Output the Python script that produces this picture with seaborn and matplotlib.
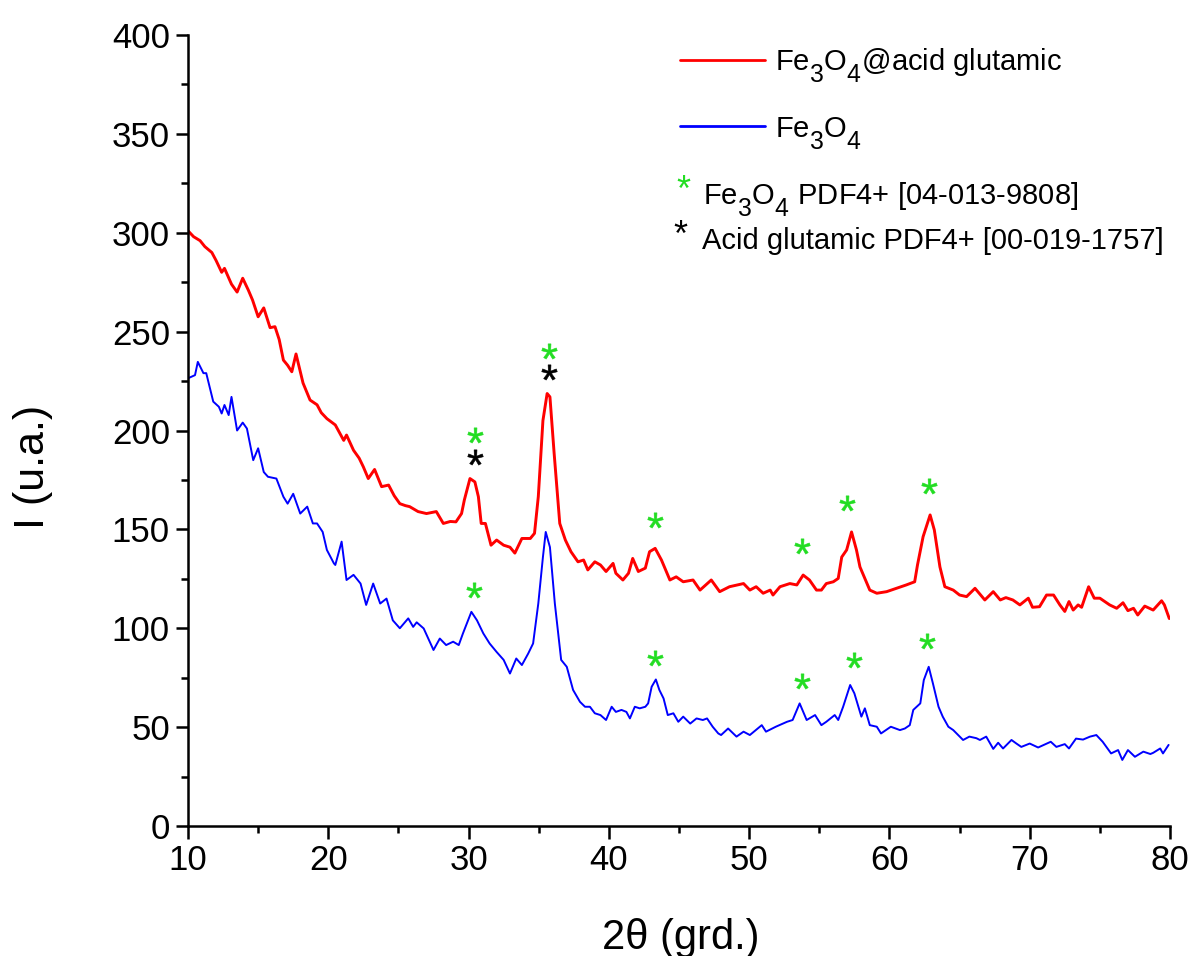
import matplotlib
matplotlib.use("Agg")
import matplotlib.pyplot as plt
import matplotlib._mathtext as _mt
import seaborn as sns
import pandas as pd

# ---------------- data ----------------
red_x = [10.0, 10.4, 10.86, 11.2, 11.7, 12.0, 12.4, 12.6, 13.1, 13.5, 13.9, 14.3, 14.6, 15.0, 15.4,
         15.85, 16.2, 16.5, 16.8, 17.1, 17.4, 17.7, 18.2, 18.7, 19.2, 19.5, 19.9, 20.5, 21.1, 21.3,
         21.8, 22.2, 22.5, 22.85, 23.3, 23.8, 24.3, 24.7, 25.1, 25.5, 25.8, 26.4, 27.0, 27.7, 28.2,
         28.7, 29.1, 29.5, 29.7, 30.1, 30.45, 30.7, 30.9, 31.2, 31.6, 32.0, 32.5, 32.95, 33.3, 33.8,
         34.4, 34.7, 34.97, 35.3, 35.6, 35.8, 36.1, 36.5, 36.9, 37.3, 37.8, 38.2, 38.5, 39.0, 39.4,
         39.8, 40.3, 40.5, 41.0, 41.4, 41.7, 42.1, 42.6, 42.9, 43.3, 43.75, 44.35, 44.8, 45.3, 46.0,
         46.5, 47.3, 47.9, 48.6, 49.6, 50.05, 50.5, 51.0, 51.5, 51.7, 52.2, 52.9, 53.4, 53.85, 54.3,
         54.8, 55.15, 55.5, 56.0, 56.35, 56.6, 56.95, 57.3, 57.65, 57.9, 58.25, 58.6, 59.1, 59.8, 60.5,
         61.2, 61.8, 62.0, 62.4, 62.9, 63.2, 63.6, 63.95, 64.55, 65.0, 65.5, 66.1, 66.8, 67.4, 67.9,
         68.3, 68.8, 69.3, 69.9, 70.2, 70.7, 71.2, 71.7, 72.15, 72.5, 72.8, 73.1, 73.45, 73.7, 74.2,
         74.6, 75.0, 75.7, 76.2, 76.65, 77.0, 77.4, 77.7, 78.2, 78.8, 79.4, 79.6, 79.95]
red_y = [301, 298, 296, 293, 290, 286, 280, 282, 274, 270, 277, 271, 266, 257.5, 262,
         252, 252.5, 246, 235.6, 233, 229.7, 238.7, 224, 215.4, 213, 209, 206, 202.8, 195, 197.7,
         190, 186, 181.6, 175.7, 180.3, 171.6, 172.4, 167, 163, 162, 161.5, 159, 158, 159, 153,
         154, 153.8, 158, 164.9, 175.7, 174, 166.5, 153, 153, 142, 144.6, 142, 141, 138, 145.4,
         145.4, 148, 166.5, 205, 218.7, 217, 188.4, 153, 144.6, 138.7, 133.6, 134.5, 129.5, 133.6, 132,
         128.7, 132.8, 127.8, 124.4, 127.8, 135.3, 128.7, 130.4, 138.7, 140.4, 134.5, 124.4, 126, 123.5, 124.4,
         119.3, 124.4, 118.5, 121, 122.6, 119.3, 121, 117.7, 119.3, 116.8, 121, 122.6, 121.9, 126.9, 124.4,
         119.3, 119.3, 122.6, 123.5, 125.2, 136, 139.6, 148.7, 139.6, 131, 125.2, 119.3, 117.7, 118.5, 120.2,
         121.9, 123.5, 132, 146.3, 157.3, 149.7, 131, 121, 119.3, 116.8, 116, 120.2, 114.3, 118.5, 114.3,
         115.5, 114.3, 111.8, 115.2, 110.6, 110.9, 116.8, 116.8, 111.8, 108.5, 113.5, 109.2, 111.8, 110.6, 121,
         115.2, 115.2, 111.8, 110.1, 112.9, 108.9, 110.1, 106.7, 111.2, 109.2, 113.9, 111.8, 104.9]

blue_x = [10.0, 10.5, 10.7, 11.1, 11.3, 11.8, 12.2, 12.4, 12.6, 12.9, 13.1, 13.5, 13.9, 14.2, 14.65,
          15.0, 15.4, 15.7, 16.3, 16.8, 17.1, 17.5, 18.0, 18.5, 18.9, 19.2, 19.6, 19.9, 20.4, 20.5,
          20.95, 21.3, 21.8, 22.3, 22.7, 23.2, 23.7, 24.15, 24.6, 25.1, 25.7, 26.05, 26.3, 26.8, 27.5,
          27.95, 28.4, 28.9, 29.3, 29.6, 30.2, 30.6, 31.05, 31.5, 32.0, 32.5, 32.95, 33.4, 33.8, 34.25,
          34.6, 34.97, 35.3, 35.5, 35.8, 36.15, 36.6, 37.0, 37.45, 37.94, 38.3, 38.65, 39.0, 39.4, 39.8,
          40.2, 40.5, 40.9, 41.25, 41.5, 41.85, 42.2, 42.6, 42.8, 43.05, 43.35, 43.6, 43.9, 44.2, 44.6,
          44.95, 45.3, 45.8, 46.25, 46.7, 47.0, 47.4, 47.8, 48.0, 48.5, 49.1, 49.6, 50.05, 50.9, 51.2,
          51.9, 52.7, 53.1, 53.6, 54.1, 54.7, 55.15, 55.5, 56.1, 56.35, 56.7, 57.2, 57.5, 58.0, 58.25,
          58.6, 59.1, 59.4, 60.1, 60.75, 61.1, 61.45, 61.7, 62.2, 62.45, 62.8, 63.1, 63.5, 63.8, 64.2,
          64.55, 65.25, 65.7, 66.2, 66.45, 66.9, 67.4, 67.75, 68.1, 68.7, 69.05, 69.4, 70.0, 70.6, 71.5,
          71.9, 72.5, 72.8, 73.3, 73.8, 74.3, 74.75, 75.2, 75.8, 76.3, 76.6, 77.0, 77.5, 78.1, 78.6,
          78.8, 79.3, 79.5, 79.9]
blue_y = [226.4, 228, 234.7, 229, 229, 214.6, 212, 208.6, 212.9, 207.8, 217, 200, 204, 201, 185,
          191, 179, 176.6, 175.7, 166.5, 163, 168, 158, 161.5, 153, 153, 148.7, 139.6, 132.8, 132,
          143.8, 124.4, 127, 122.6, 111.8, 122.6, 112.5, 115, 104, 100, 105, 100.7, 103, 99.9, 89,
          94.8, 91.5, 93.2, 91.5, 97.4, 108.3, 104, 97.4, 92.3, 88, 84, 77.1, 84.7, 81.4, 87.2,
          92.3, 112.5, 136, 148.7, 141, 112.5, 84, 80.5, 68.8, 62.8, 60.3, 60.3, 57, 56.1, 53.6,
          60.3, 57.7, 58.7, 57.7, 54.4, 60.3, 59.5, 60.3, 62, 70.4, 74.1, 68.8, 64.5, 56.1, 57,
          52.7, 55.3, 51.8, 54.4, 53.6, 54.4, 50.2, 46.8, 46, 49.3, 45.2, 47.7, 46, 51, 47.7,
          50.2, 52.7, 53.6, 62, 53.6, 56.1, 51, 52.7, 56.1, 53.6, 60.3, 71.3, 67.1, 55.3, 59.5,
          51, 50.2, 46.8, 50.2, 48.5, 49.3, 51, 58.7, 62, 73.8, 80.5, 72.1, 60.3, 55.3, 50.2,
          48.5, 43.5, 45.2, 44.4, 43.5, 45.2, 39, 42.1, 39.2, 43.5, 41.7, 40, 41.7, 39.7, 42.6,
          40, 41.4, 39.2, 44.2, 43.7, 45.2, 46, 42.6, 36.7, 38.4, 33.4, 38.4, 35, 37.6, 36.4,
          37, 39.2, 36.7, 41]

# peak markers (asterisk centres, data coords)
green_star_x = [30.45, 35.7, 43.3, 53.8, 57.0, 62.8, 30.4, 43.3, 53.8, 57.5, 62.7]
green_star_y = [197.7, 240.0, 154.7, 141.6, 163.3, 172.0, 119.3, 85.0, 73.3, 84.0, 93.5]
black_star_x = [30.45, 35.7]
black_star_y = [186.6, 229.4]

series_labels = [r"Fe$_3$O$_4$@acid glutamic", r"Fe$_3$O$_4$"]
note_labels = [r"Fe$_3$O$_4$ PDF4+ [04-013-9808]", "Acid glutamic PDF4+ [00-019-1757]"]
x_ticks = [10, 20, 30, 40, 50, 60, 70, 80]
y_ticks = [0, 50, 100, 150, 200, 250, 300, 350, 400]
x_label = "2\u03b8 (grd.)"
y_label = "I (u.a.)"

# ---------------- style ----------------
sns.set_style("ticks", rc={"axes.edgecolor": "black", "xtick.color": "black", "ytick.color": "black",
                           "text.color": "black", "axes.labelcolor": "black"})
plt.rcParams["font.family"] = ["Liberation Sans", "DejaVu Sans"]
plt.rcParams["mathtext.fontset"] = "custom"
plt.rcParams["mathtext.rm"] = "Liberation Sans"
plt.rcParams["mathtext.it"] = "Liberation Sans:italic"
plt.rcParams["mathtext.bf"] = "Liberation Sans:bold"
# larger, lower subscripts, as in the reference
_mt.SHRINK_FACTOR = 0.85
_mt.FontConstantsBase.sub1 = 0.75
_mt.FontConstantsBase.sub2 = 0.75

RED = "#FF0000"
BLUE = "#0000FF"
GREEN = "#22DD22"

W, H = 1201, 956
fig = plt.figure(figsize=(W / 100, H / 100), dpi=100)
ax = fig.add_axes([188 / W, 1 - 826 / H, (1170 - 188) / W, (826 - 35) / H])

df_red = pd.DataFrame({"x": red_x, "y": red_y})
df_blue = pd.DataFrame({"x": blue_x, "y": blue_y})
sns.lineplot(data=df_red, x="x", y="y", ax=ax, color=RED, lw=2.1, estimator=None, sort=False,
             label=series_labels[0])
sns.lineplot(data=df_blue, x="x", y="y", ax=ax, color=BLUE, lw=1.4, estimator=None, sort=False,
             label=series_labels[1])

# asterisks marking the reflections
df_g = pd.DataFrame({"x": green_star_x, "y": green_star_y})
df_k = pd.DataFrame({"x": black_star_x, "y": black_star_y})
sns.scatterplot(data=df_g, x="x", y="y", ax=ax, marker="$*$", s=125, color=GREEN, linewidth=0.4,
                edgecolor=GREEN, legend=False, zorder=5)
sns.scatterplot(data=df_k, x="x", y="y", ax=ax, marker="$*$", s=125, color="black", linewidth=0.4,
                edgecolor="black", legend=False, zorder=5)

ax.set_xlim(10, 80)
ax.set_ylim(0, 400)
ax.set_xticks(x_ticks)
ax.set_yticks(y_ticks)
ax.set_xticks([15, 25, 35, 45, 55, 65, 75], minor=True)
ax.set_yticks([25, 75, 125, 175, 225, 275, 325, 375], minor=True)
for s in ["top", "right"]:
    ax.spines[s].set_visible(False)
for s in ["left", "bottom"]:
    ax.spines[s].set_linewidth(1.8)
    ax.spines[s].set_color("black")
ax.tick_params(which="major", direction="out", length=9, width=1.8, color="black")
ax.tick_params(which="minor", direction="out", length=5, width=1.8, color="black")
ax.tick_params(axis="y", which="major", labelsize=25, pad=4, labelcolor="black")
ax.tick_params(axis="x", which="major", labelsize=25, pad=4, labelcolor="black")

ax.set_xlabel("")
ax.set_ylabel("")
fig.text(681 / W, 1 - 938 / H, x_label, ha="center", va="center", fontsize=30)
fig.text(33 / W, 1 - 467 / H, y_label, ha="center", va="center", fontsize=31, rotation=90)

# legend
leg = ax.legend(loc="upper left", bbox_to_anchor=(680 / W, 1 - 46 / H), bbox_transform=fig.transFigure,
                frameon=False, fontsize=21, handlelength=2.9, handletextpad=0.35,
                labelspacing=1.05, borderpad=0, borderaxespad=0)
for line in leg.get_lines():
    line.set_linewidth(2.0)

FS_STAR = 26
fig.text(683 / W, 1 - 201 / H, "*", ha="center", va="baseline", fontsize=FS_STAR, color=GREEN)
fig.text(703 / W, 1 - 204 / H, note_labels[0], ha="left", va="baseline", fontsize=21)
fig.text(680 / W, 1 - 246 / H, "*", ha="center", va="baseline", fontsize=FS_STAR, color="black")
fig.text(702 / W, 1 - 249 / H, note_labels[1], ha="left", va="baseline", fontsize=21)

fig.savefig("out.png", dpi=100, facecolor="white")
